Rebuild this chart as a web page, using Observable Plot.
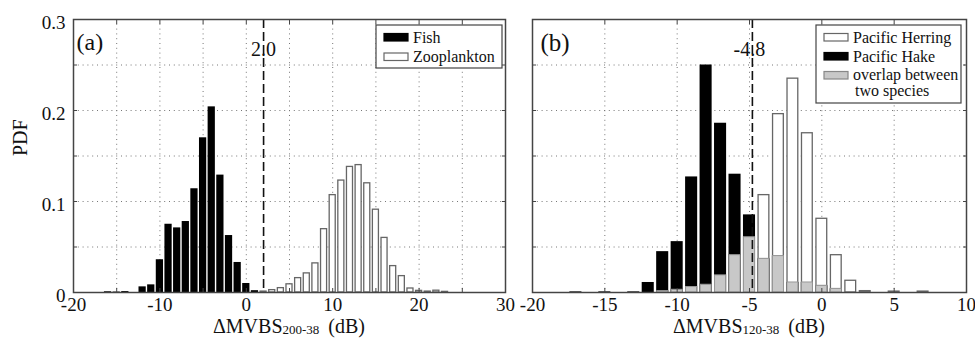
<!DOCTYPE html>
<html><head><meta charset="utf-8">
<script src="https://cdn.jsdelivr.net/npm/d3@7"></script>
<script src="https://cdn.jsdelivr.net/npm/@observablehq/plot@0.6"></script>
<style>
html,body{margin:0;padding:0;background:#fff;}
#wrap{display:flex;width:975px;height:338px;overflow:hidden;}
</style></head><body><div id="wrap"></div>
<script>
// ---- tick / grid values ----
const xTicksA = [-20, -10, 0, 10, 20, 30];
const xGridA = [-15, -10, -5, 0, 5, 10, 15, 20, 25];
const xTicksB = [-20, -15, -10, -5, 0, 5, 10];
const xGridB = [-15, -10, -5, 0, 5];
const yTicks = [0, 0.1, 0.2, 0.3];
const yGrid = [0.05, 0.1, 0.15, 0.2, 0.25];

// ---- panel (a) data: bin centres (dB) and PDF ----
const fishBins = [-16, -15, -14, -12, -11, -10, -9, -8, -7, -6, -5, -4, -3, -2, -1, 0, 1];
const fishPdf  = [0.0008, 0.0005, 0.001, 0.0062, 0.0084, 0.036, 0.075, 0.071, 0.078, 0.114, 0.170, 0.204, 0.129, 0.0626, 0.033, 0.0099, 0.002];
const zooBins = [2, 3, 4, 5, 6, 7, 8, 9, 10, 11, 12, 13, 14, 15, 16, 17, 18, 19, 20, 21, 22, 23];
const zooPdf  = [0.001, 0.0026, 0.0048, 0.009, 0.0158, 0.021, 0.032, 0.0696, 0.107, 0.123, 0.138, 0.140, 0.120, 0.091, 0.060, 0.029, 0.018, 0.0044, 0.0018, 0.001, 0.002, 0.0007];
const thresholdA = [2.0];

// ---- panel (b) data ----
const herringBins = [-11, -10, -9, -8, -7, -6, -5, -4, -3, -2, -1, 0, 1, 2, 3, 5, 7];
const herringPdf  = [0.0015, 0.003, 0.006, 0.0085, 0.0188, 0.041, 0.0607, 0.107, 0.196, 0.235, 0.175, 0.081, 0.041, 0.0129, 0.0015, 0.001, 0.001];
const hakeBins = [-17, -15, -13, -12, -11, -10, -9, -8, -7, -6, -5, -4, -3, -2, -1, 0, 1];
const hakePdf  = [0.0007, 0.0007, 0.0007, 0.011, 0.0449, 0.0559, 0.127, 0.25, 0.186, 0.130, 0.0853, 0.037, 0.040, 0.011, 0.011, 0.0074, 0.004];
const thresholdB = [-4.8];

const legendA = ["Fish", "Zooplankton"];
const legendB = ["Pacific Herring", "Pacific Hake", "overlap between", "two species"];
const labelA = ["ΔMVBS", "200-38", "(dB)"];
const labelB = ["ΔMVBS", "120-38", "(dB)"];

// ---- tables ----
const toRows = (bins, vals) => bins.map((x, i) => ({x, y: vals[i]}));
const fish = toRows(fishBins, fishPdf);
const zoo = toRows(zooBins, zooPdf);
const herring = toRows(herringBins, herringPdf);
const hake = toRows(hakeBins, hakePdf);
const hakeMap = new Map(hake.map(d => [d.x, d.y]));
const overlap = herring.filter(d => hakeMap.has(d.x)).map(d => ({x: d.x, y: Math.min(d.y, hakeMap.get(d.x))}));

const FONT = "'Liberation Serif','Times New Roman',serif";
const TXT = "#111";
const FR = "#444";
const gridStyle = {stroke: "#777", strokeOpacity: 1, strokeWidth: 1, strokeDasharray: "1,3.8"};
const binX = {x1: d => d.x - 0.5, x2: d => d.x + 0.5, y: "y"};

function innerTicks(xg, yg) {
  return [
    Plot.axisX(xg, {anchor: "bottom", tickSize: -4, fill: "none", stroke: FR, label: null}),
    Plot.axisX(xg, {anchor: "top", tickSize: -4, fill: "none", stroke: FR, label: null}),
    Plot.axisY(yg, {anchor: "left", tickSize: -4, fill: "none", stroke: FR, label: null}),
    Plot.axisY(yg, {anchor: "right", tickSize: -4, fill: "none", stroke: FR, label: null})
  ];
}

const plotA = Plot.plot({
  width: 520, height: 338,
  marginLeft: 73, marginRight: 15, marginTop: 19, marginBottom: 46,
  x: {domain: [-20, 30]},
  y: {domain: [0, 0.3]},
  style: {fontFamily: FONT, fontSize: "19px", color: TXT, background: "#fff"},
  marks: [
    Plot.gridX(xGridA, gridStyle),
    Plot.gridY(yGrid, gridStyle),
    Plot.rectY(fish, {...binX, fill: "#000", insetLeft: 0.7, insetRight: 0.7}),
    Plot.rectY(zoo, {...binX, fill: "#fff", stroke: "#666", strokeWidth: 1.3, insetLeft: 1.3, insetRight: 1.3}),
    Plot.ruleX(thresholdA, {x: d => d, stroke: "#111", strokeWidth: 1.6, strokeDasharray: "9,4"}),
    Plot.text(thresholdA, {x: d => d, frameAnchor: "top", dy: 22, text: d => d.toFixed(1), fontSize: 20, fontFamily: FONT, fill: TXT}),
    Plot.text(["(a)"], {frameAnchor: "top-left", dx: 3, dy: 13, textAnchor: "start", fontSize: 24, fontFamily: FONT, fill: TXT}),
    Plot.text(["PDF"], {frameAnchor: "left", dx: -53, rotate: -90, fontSize: 20, fontFamily: FONT, fill: TXT}),
    Plot.axisX(xTicksA, {anchor: "bottom", tickSize: 0, tickPadding: 4.5, tickFormat: d => String(d), fontSize: 19, fontFamily: FONT, label: null}),
    Plot.axisY(yTicks, {anchor: "left", tickSize: 0, tickPadding: 8, dy: 3, tickFormat: d => d === 0 ? "0" : d.toFixed(1), fontSize: 19, fontFamily: FONT, label: null}),
    ...innerTicks(xGridA, yGrid),
    Plot.frame({stroke: FR, strokeWidth: 1.5})
  ]
});

const plotB = Plot.plot({
  width: 455, height: 338,
  marginLeft: 12, marginRight: 9, marginTop: 19, marginBottom: 46,
  x: {domain: [-20, 10]},
  y: {domain: [0, 0.3]},
  style: {fontFamily: FONT, fontSize: "19px", color: TXT, background: "#fff"},
  marks: [
    Plot.gridX(xGridB, gridStyle),
    Plot.gridY(yGrid, gridStyle),
    Plot.rectY(herring, {...binX, fill: "#fff", stroke: "#666", strokeWidth: 1.3, insetLeft: 1.85, insetRight: 1.85}),
    Plot.rectY(hake, {...binX, fill: "#000", insetLeft: 1.2, insetRight: 1.2}),
    Plot.rectY(overlap, {...binX, fill: "#c8c8c8", stroke: "#999", strokeWidth: 1, insetLeft: 1.7, insetRight: 1.7}),
    Plot.ruleX(thresholdB, {x: d => d, stroke: "#111", strokeWidth: 1.6, strokeDasharray: "9,4"}),
    Plot.text(thresholdB, {x: d => d, frameAnchor: "top", dy: 22, dx: -3, text: d => d.toFixed(1), fontSize: 20, fontFamily: FONT, fill: TXT}),
    Plot.text(["(b)"], {frameAnchor: "top-left", dx: 8, dy: 14, textAnchor: "start", fontSize: 25, fontFamily: FONT, fill: TXT}),
    Plot.axisX(xTicksB, {anchor: "bottom", tickSize: 0, tickPadding: 4.5, tickFormat: d => String(d), fontSize: 19, fontFamily: FONT, label: null}),
    ...innerTicks(xGridB, yGrid),
    Plot.frame({stroke: FR, strokeWidth: 1.5})
  ]
});

function addXLabel(svg, cx, parts) {
  const t = d3.select(svg).append("text")
    .attr("x", cx).attr("y", 333).attr("text-anchor", "middle")
    .attr("font-family", FONT).attr("font-size", 20).attr("fill", TXT);
  t.append("tspan").text(parts[0]);
  t.append("tspan").attr("font-size", 13).attr("dy", 1).text(parts[1]);
  t.append("tspan").attr("dy", -1).attr("dx", 9).text(parts[2]);
}

function addLegend(svg, box, rows) {
  const g = d3.select(svg).append("g").attr("font-family", FONT).attr("font-size", 16)
    .attr("fill", TXT).attr("text-anchor", "start");
  g.append("rect").attr("x", box.x).attr("y", box.y).attr("width", box.w).attr("height", box.h)
    .attr("fill", "#fff").attr("stroke", FR).attr("stroke-width", 1.2);
  for (const r of rows) {
    if (r.swatch) {
      g.append("rect").attr("x", box.x + 8).attr("y", r.sy).attr("width", 24).attr("height", 7.5)
        .attr("fill", r.swatch.fill).attr("stroke", r.swatch.stroke).attr("stroke-width", 1.2);
    }
    g.append("text").attr("x", box.x + 37 + (r.indent || 0)).attr("y", r.by)
      .attr("text-anchor", "start").text(r.label);
  }
}

addXLabel(plotA, 289, labelA);
addXLabel(plotB, 229, labelB);

addLegend(plotA, {x: 376, y: 25, w: 126, h: 43}, [
  {label: legendA[0], by: 43, sy: 33.5, swatch: {fill: "#000", stroke: "#000"}},
  {label: legendA[1], by: 62, sy: 53, swatch: {fill: "#fff", stroke: "#666"}}
]);
addLegend(plotB, {x: 296, y: 25, w: 145, h: 78}, [
  {label: legendB[0], by: 42.5, sy: 33.5, swatch: {fill: "#fff", stroke: "#666"}},
  {label: legendB[1], by: 61.5, sy: 52.5, swatch: {fill: "#000", stroke: "#000"}},
  {label: legendB[2], by: 80, sy: 71.5, swatch: {fill: "#c8c8c8", stroke: "#888"}},
  {label: legendB[3], by: 96, indent: 2}
]);

document.getElementById("wrap").append(plotA, plotB);
</script>
</body></html>
